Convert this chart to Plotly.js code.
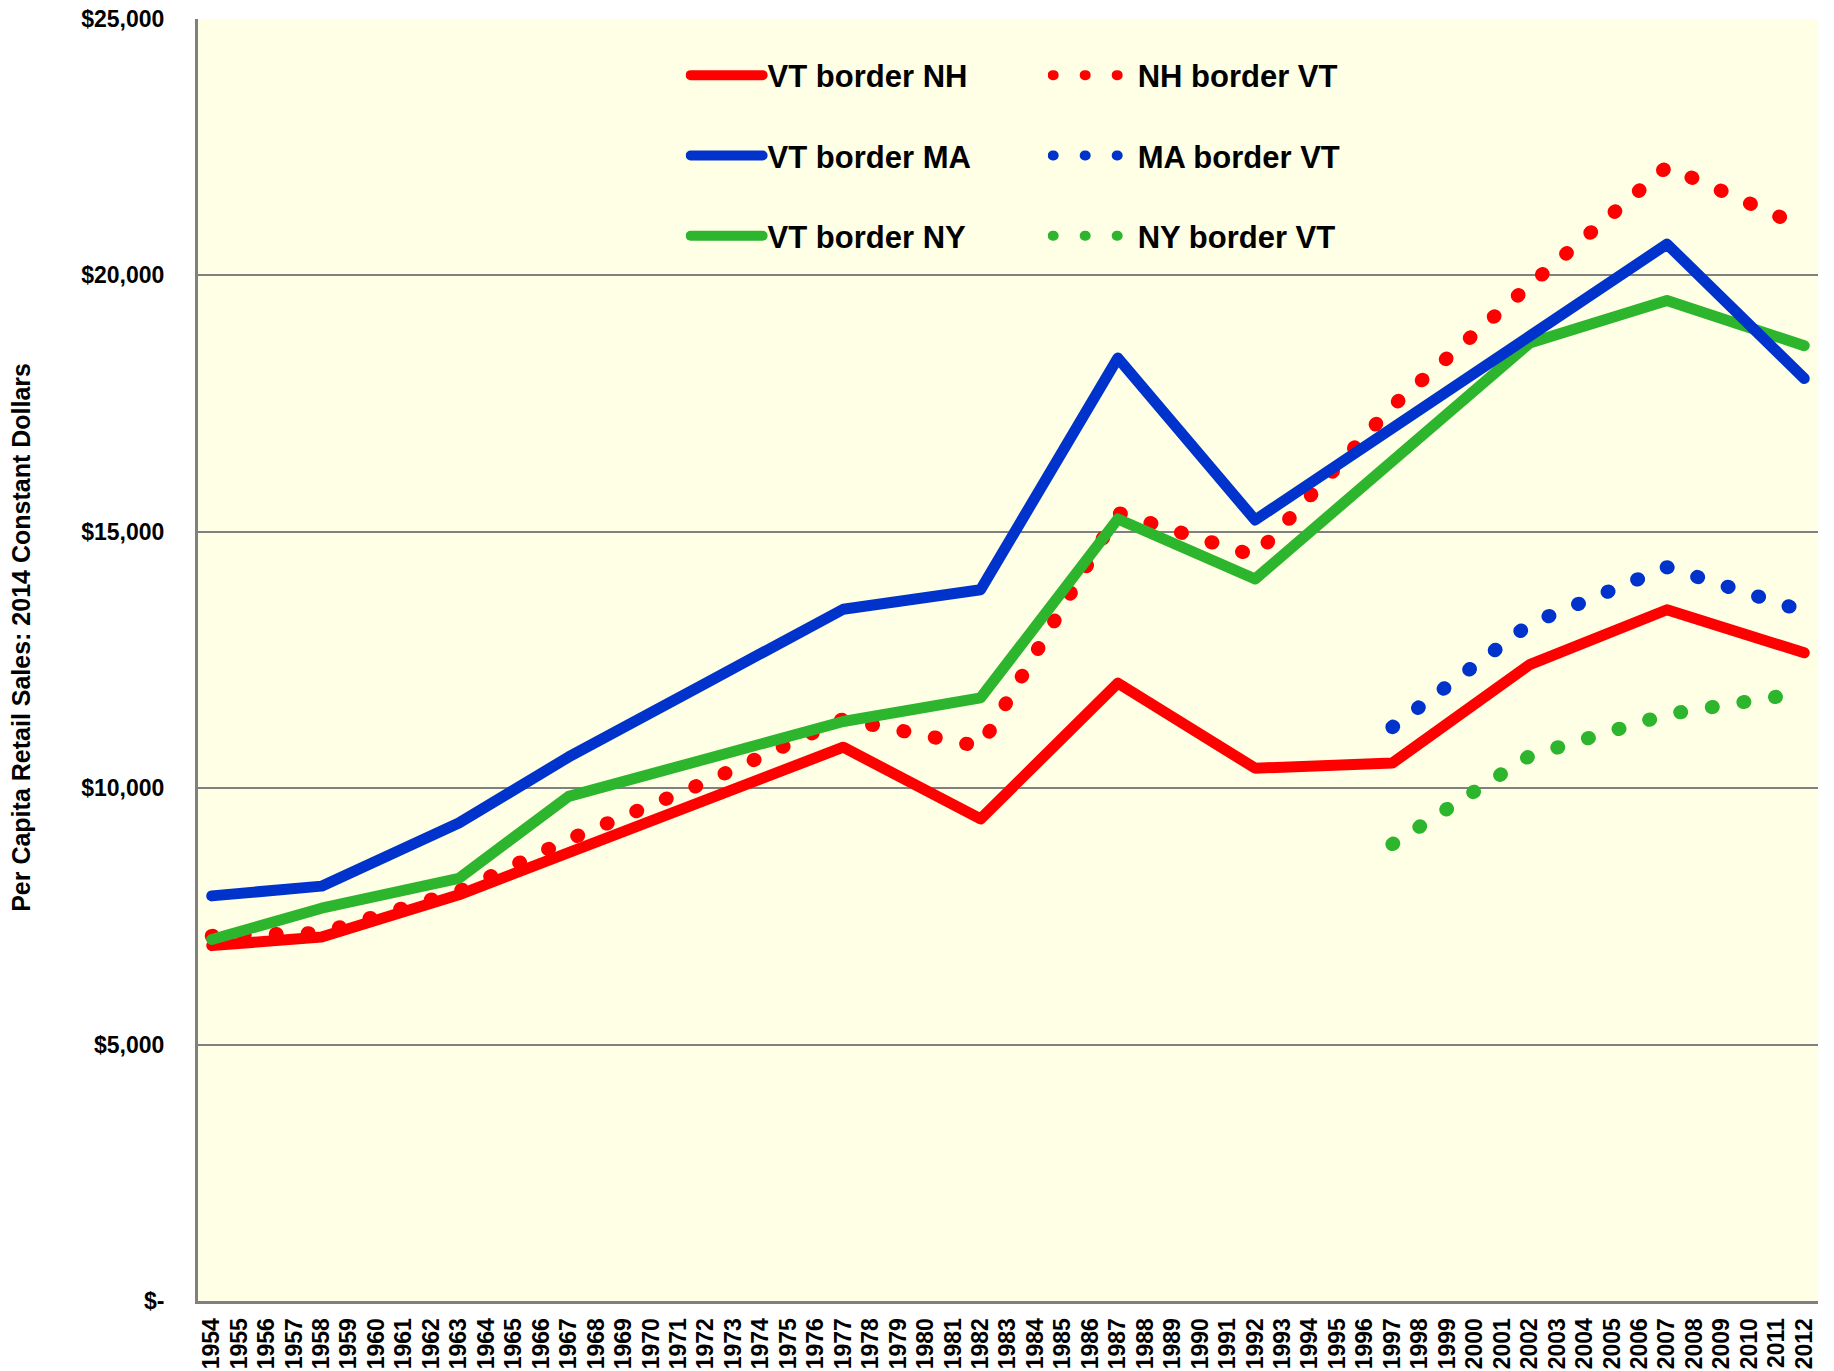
<!DOCTYPE html>
<html>
<head>
<meta charset="utf-8">
<script src="https://cdn.plot.ly/plotly-3.0.1.min.js"></script>
<style>
    body { margin: 0; background: #fff; }
    #chart { width: 1834px; height: 1371px; }
    /* round ends, so the dotted series come out as round dots like the original */
    .main-svg path.js-line { stroke-linecap: round; stroke-linejoin: round; }
</style>
</head>
<body>
<div id="chart"></div>
<script>
// x axis: every year gets a tick label
const years = [1954, 1955, 1956, 1957, 1958, 1959, 1960, 1961, 1962, 1963, 1964, 1965, 1966, 1967,
    1968, 1969, 1970, 1971, 1972, 1973, 1974, 1975, 1976, 1977, 1978, 1979, 1980, 1981, 1982, 1983,
    1984, 1985, 1986, 1987, 1988, 1989, 1990, 1991, 1992, 1993, 1994, 1995, 1996, 1997, 1998, 1999,
    2000, 2001, 2002, 2003, 2004, 2005, 2006, 2007, 2008, 2009, 2010, 2011, 2012];

// census years
const censusYears = [1954, 1958, 1963, 1967, 1972, 1977, 1982, 1987, 1992, 1997, 2002, 2007, 2012];
const lateYears = [1997, 2002, 2007, 2012];

// per capita retail sales, 2014 dollars
const vtBorderNH = [6930, 7100, 7920, 8730, 9770, 10800, 9400, 12050, 10390, 10490, 12410, 13480, 12640];
const vtBorderMA = [7900, 8090, 9320, 10610, 12050, 13490, 13870, 18390, 15230, 17020, 18870, 20610, 17990];
const vtBorderNY = [7050, 7660, 8240, 9840, 10570, 11300, 11760, 15250, 14080, 16410, 18680, 19510, 18630];
const nhBorderVT = [7120, 7180, 7990, 9000, 10120, 11350, 10810, 15370, 14530, 17450, 19810, 22120, 20930];
const maBorderVT = [11190, 13200, 14310, 13450];
const nyBorderVT = [8910, 10630, 11440, 11870];

const yTicks = [0, 5000, 10000, 15000, 20000, 25000];
const yTickText = ["$-", "$5,000", "$10,000", "$15,000", "$20,000", "$25,000"];

const RED = "#ff0000";
const BLUE = "#0033cc";
const GREEN = "#2eb52e";
const DOTS = "1px,31px";
const FONT = "Liberation Sans, Arial, sans-serif";

const data = [
    // dotted series first so the solid lines sit on top
    { x: censusYears, y: nhBorderVT, name: "NH border VT", legend: "legend2", legendgroup: "d1", legendrank: 1,
      mode: "lines", line: { color: RED, width: 14, dash: DOTS } },
    { x: lateYears, y: maBorderVT, name: "MA border VT", legend: "legend2", legendgroup: "d2", legendrank: 2,
      mode: "lines", line: { color: BLUE, width: 14, dash: DOTS } },
    { x: lateYears, y: nyBorderVT, name: "NY border VT", legend: "legend2", legendgroup: "d3", legendrank: 3,
      mode: "lines", line: { color: GREEN, width: 14, dash: DOTS } },
    { x: censusYears, y: vtBorderNH, name: "VT border NH", legendgroup: "s1", legendrank: 1,
      mode: "lines", line: { color: RED, width: 11 } },
    { x: censusYears, y: vtBorderNY, name: "VT border NY", legendgroup: "s3", legendrank: 3,
      mode: "lines", line: { color: GREEN, width: 11 } },
    { x: censusYears, y: vtBorderMA, name: "VT border MA", legendgroup: "s2", legendrank: 2,
      mode: "lines", line: { color: BLUE, width: 11 } }
];

const legendBase = {
    orientation: "v",
    traceorder: "grouped",
    tracegroupgap: 37,
    itemwidth: 72,
    bgcolor: "rgba(0,0,0,0)",
    font: { family: FONT, size: 31, color: "#000", weight: "bold" },
    xanchor: "left",
    yanchor: "top",
    y: 0.977
};

const layout = {
    width: 1834,
    height: 1371,
    margin: { l: 198, r: 16, t: 19, b: 70 },
    paper_bgcolor: "#ffffff",
    plot_bgcolor: "#ffffe5",
    font: { family: FONT, color: "#000" },
    showlegend: true,
    legend: Object.assign({}, legendBase, { x: 0.301 }),
    legend2: Object.assign({}, legendBase, { x: 0.5245, itemwidth: 80 }),
    xaxis: {
        range: [1953.5, 2012.5],
        tickvals: years,
        ticktext: years.map(String),
        tickangle: -90,
        ticks: "",
        ticklabelstandoff: 5,
        tickfont: { size: 23, weight: "bold" },
        showgrid: false,
        zeroline: false,
        showline: true,
        linecolor: "#808080",
        linewidth: 3
    },
    yaxis: {
        range: [0, 25000],
        tickvals: yTicks,
        ticktext: yTickText,
        ticks: "",
        ticklabelstandoff: 26,
        tickfont: { size: 23, weight: "bold" },
        showgrid: true,
        gridcolor: "#808080",
        gridwidth: 1.5,
        zeroline: false,
        showline: true,
        linecolor: "#808080",
        linewidth: 3
    },
    annotations: [{
        text: "Per Capita Retail Sales: 2014 Constant Dollars",
        xref: "paper", yref: "paper",
        x: -0.1093, y: 0.518,
        xanchor: "center", yanchor: "middle",
        textangle: -90,
        showarrow: false,
        font: { size: 25, weight: "bold", color: "#000" }
    }]
};

Plotly.newPlot("chart", data, layout, { displayModeBar: false });
</script>
</body>
</html>
